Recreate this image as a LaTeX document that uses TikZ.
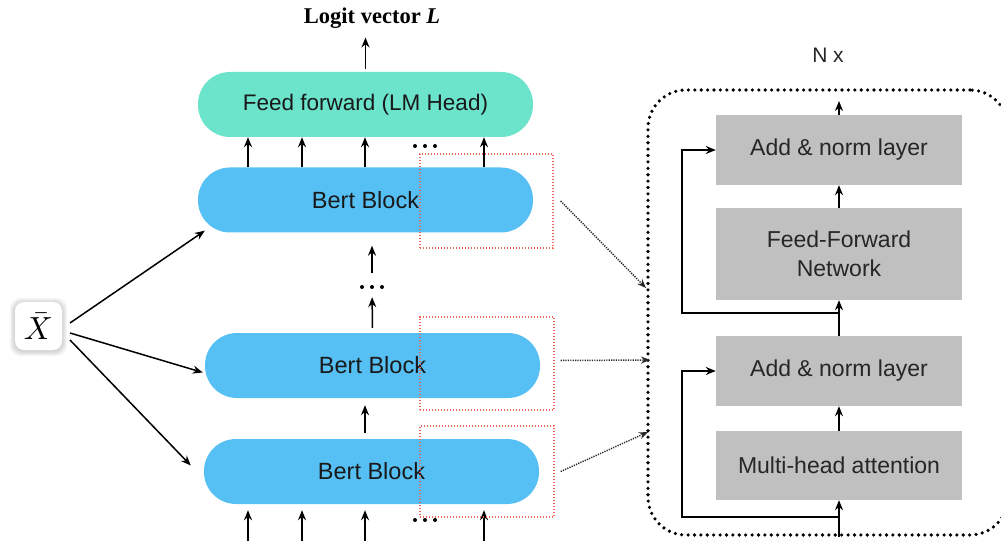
\documentclass[tikz,border=0pt]{standalone}
\usepackage{fontspec}
\usepackage{graphicx}
\setmainfont{Liberation Sans}
\newfontfamily\titlefont{Liberation Serif}
\usetikzlibrary{arrows.meta,calc,backgrounds}
\definecolor{bertblue}{RGB}{86,192,245}
\definecolor{headteal}{RGB}{108,227,203}
\definecolor{layergray}{RGB}{192,192,192}
\definecolor{zoomred}{RGB}{240,100,90}
\tikzset{
  arr/.style={-{Stealth[length=10pt,width=8pt]}, line width=1.5pt},
  pill/.style={rounded corners=32pt, minimum width=335pt, minimum height=65pt,
    inner sep=0pt, text=black!90},
  bert/.style={pill, fill=bertblue, font=\fontsize{23.5}{28}\selectfont},
  head/.style={pill, fill=headteal, font=\fontsize{22.5}{28}\selectfont},
  layer/.style={fill=layergray, minimum width=246pt, inner sep=0pt, align=center,
    font=\fontsize{23}{29}\selectfont, text=black!85},
  zoombox/.style={draw=zoomred, line width=1.3pt, dash pattern=on 1.3pt off 1.7pt,
    inner sep=0pt},
  link/.style={line width=1.5pt, dash pattern=on 1.2pt off 1.2pt, draw=black!85,
    -{Stealth[length=9pt,width=7pt]}},
  dotsn/.style={minimum width=24pt, minimum height=4pt, inner sep=0pt},
  stackbox/.style={draw, line width=3.6pt, dash pattern=on 0pt off 6.4pt,
    line cap=round, rounded corners=38pt, inner sep=0pt},
}
% three round dots centred on a node
\newcommand\dotrow[1]{\foreach \dx in {-10,0,10} \fill ($(#1)+(\dx,0)$) circle (2pt);}
\begin{document}
\begin{tikzpicture}[x=1pt,y=-1pt]
\useasboundingbox (0,0) rectangle (1001,545);
\clip (0,0) rectangle (1001,545);

% ---------- input symbol ----------
\node[fill=white, rounded corners=9pt, minimum width=47pt, minimum height=48pt,
      inner sep=0pt] (xbar) at (38.5,326) {\scalebox{3.2}{$\bar{X}$}\hspace{2pt}};
\begin{scope}[on background layer]
  \foreach \s in {1,2,3,4,5}
    \fill[black, opacity=0.035, rounded corners=11pt]
      ($(xbar.south west)+(-\s,\s+1)$) rectangle ($(xbar.north east)+(\s,-\s+1)$);
\end{scope}

% ---------- encoder stack ----------
\node[head] (ff)   at (365.5,104.5) {Feed forward (LM Head)};
\node[bert] (topb) at (365.5,200)   {Bert Block};
\node[bert] (midb) at (372.5,365.5) {Bert Block};
\node[bert] (botb) at (371.5,471.5) {Bert Block};

\node[font=\titlefont\bfseries\fontsize{22.5}{24}\selectfont, inner sep=0pt]
  (logit) at (372,18) {Logit vector \textit{L}};
\draw[arr, shorten >=9pt, shorten <=3pt] (ff.north) -- (ff.north |- logit.south);

% token arrows between the top block and the head
\foreach \x in {248,302,365,484}
  \draw[arr] (\x,0 |- topb.north) -- (\x,0 |- ff.south);
\node[dotsn] (d1) at (425,146) {};
\dotrow{d1}

% arrows through the stack
\node[dotsn] (vd) at (372,287) {};
\dotrow{vd}
\draw[arr, shorten <=5pt, shorten >=8pt] (midb.north) -- (vd);
\draw[arr, shorten <=12pt, shorten >=13pt] (vd) -- (vd |- topb.south);
\draw[arr, shorten <=6pt, shorten >=7pt] (365,0 |- botb.north) -- (365,0 |- midb.south);

% input token arrows
\foreach \x [count=\i] in {248,302,365,484}
  \coordinate (tok\i) at (\x,541);
\foreach \i in {1,2,3,4}
  \draw[arr, shorten >=6pt] (tok\i) -- (tok\i |- botb.south);
\node[dotsn] (d2) at (425,520) {};
\dotrow{d2}

% input connections
\coordinate (x1) at (70,323);
\coordinate (x2) at (70,333);
\coordinate (x3) at (70,340);
\draw[arr] (x1) -- ($(topb.south west)+(7,-2)$);
\draw[arr] (x2) -- ($(midb.west)+(-2,7)$);
\draw[arr] (x3) -- ($(botb.west)+(-13,-6)$);

% highlighted regions
\node[zoombox, minimum width=133pt, minimum height=94pt] (zt) at (486.5,201)   {};
\node[zoombox, minimum width=134pt, minimum height=93pt] (zm) at (487,363.5)   {};
\node[zoombox, minimum width=134pt, minimum height=91pt] (zb) at (487,471.5)   {};

% ---------- block detail ----------
\node[stackbox, minimum width=360pt, minimum height=445pt] (stack) at (828,312.5) {};
\node[font=\fontsize{21}{24}\selectfont, text=black!85] (nx) at (828,55) {N x};

\node[layer, minimum height=70pt] (an1) at (839,150)   {Add \& norm layer};
\node[layer, minimum height=92pt] (ffn) at (839,254)   {Feed-Forward\\Network};
\node[layer, minimum height=70pt] (an2) at (839,371)   {Add \& norm layer};
\node[layer, minimum height=69pt] (mha) at (839,465.5) {Multi-head attention};

\coordinate (out) at (839,101);
\coordinate (in) at (mha.south |- stack.south);
\coordinate (j1) at (839,517);
\coordinate (j2) at (839,313);
\coordinate (k1) at (682,517);
\coordinate (k2) at (682,313);

\draw[arr] (an1.north) -- (out);
\draw[arr] (ffn.north) -- (an1.south);
\draw[arr] (an2.north) -- (ffn.south);
\draw[arr] (mha.north) -- (an2.south);
\draw[arr] (in) -- (mha.south);
\draw[arr] (j1) -- (k1) |- (an2.west);
\draw[arr] (j2) -- (k2) |- (an1.west);

% links from the highlighted regions to the detail
\coordinate (e1) at (646,288);
\coordinate (e2) at (650,360);
\coordinate (e3) at (648,432);
\draw[link] ($(zt.east)+(7,0)$) -- (e1);
\draw[link] ($(zm.east)+(6,-3)$) -- (e2);
\draw[link] ($(zb.east)+(6,0)$) -- (e3);
\end{tikzpicture}
\end{document}
